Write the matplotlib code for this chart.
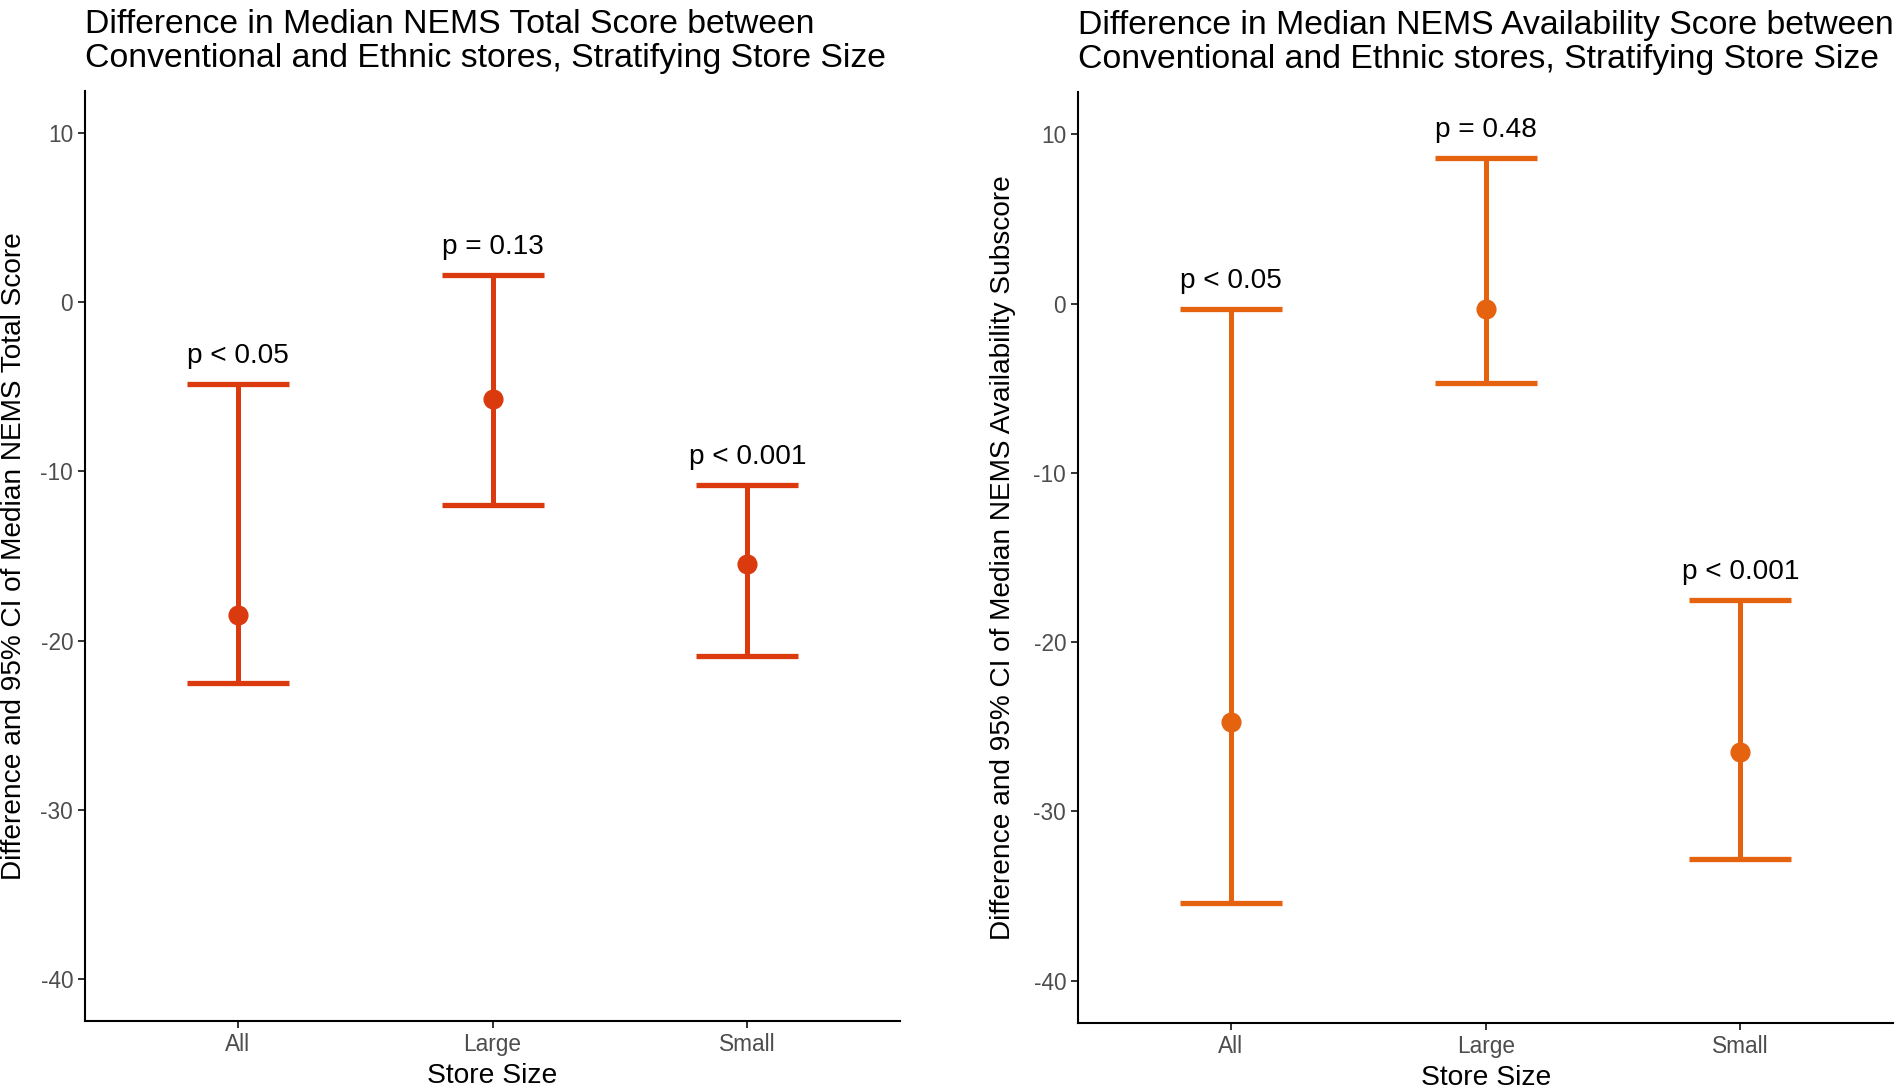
import matplotlib
matplotlib.use("Agg")
from matplotlib import pyplot as plt

plt.rcParams['font.family'] = ['Liberation Sans', 'DejaVu Sans']
plt.rcParams['axes.unicode_minus'] = False

categories = ["All", "Large", "Small"]

# left panel: NEMS total score
total_median = [-18.5, -5.7, -15.5]
total_lower = [-22.5, -12.0, -20.9]
total_upper = [-4.8, 1.65, -10.8]
total_p = ["p < 0.05", "p = 0.13", "p < 0.001"]

# right panel: NEMS availability subscore
avail_median = [-24.7, -0.3, -26.5]
avail_lower = [-35.4, -4.7, -32.8]
avail_upper = [-0.3, 8.6, -17.5]
avail_p = ["p < 0.05", "p = 0.48", "p < 0.001"]

y_ticks = [10, 0, -10, -20, -30, -40]


def draw_panel(ax, med, lo, hi, plabels, color, title, ylabel, ylab_x):
    x = list(range(1, len(categories) + 1))
    ax.vlines(x, lo, hi, color=color, linewidth=3.6, zorder=2)
    ax.hlines(lo, [i - 0.2 for i in x], [i + 0.2 for i in x],
              color=color, linewidth=3.8, zorder=2)
    ax.hlines(hi, [i - 0.2 for i in x], [i + 0.2 for i in x],
              color=color, linewidth=3.8, zorder=2)
    ax.plot(x, med, 'o', color=color, markersize=13.5, zorder=3)
    for xi, h, lab in zip(x, hi, plabels):
        ax.text(xi, h + 1.65, lab, ha='center', va='center', fontsize=20.2)

    ax.set_xlim(0.4, 3.6)
    ax.set_ylim(-42.5, 12.5)
    ax.set_xticks(x)
    ax.set_xticklabels(categories)
    ax.set_yticks(y_ticks)
    ax.tick_params(axis='both', labelsize=16.3, labelcolor='#4D4D4D',
                   color='#333333', length=5, width=1.4)
    for side in ['top', 'right']:
        ax.spines[side].set_visible(False)
    for side in ['left', 'bottom']:
        ax.spines[side].set_linewidth(1.5)
    ax.set_xlabel('Store Size', fontsize=20.3, labelpad=5)
    ax.set_ylabel(ylabel, fontsize=20.2)
    ax.yaxis.set_label_coords(ylab_x, 0.5)
    ax.set_title(title, loc='left', fontsize=24.3, pad=17.5, linespacing=1.12)


fig = plt.figure(figsize=(19.02, 10.89), dpi=100)
ax1 = fig.add_axes([0.0447, 0.0624, 0.4286, 0.854])
ax2 = fig.add_axes([0.5668, 0.0606, 0.4286, 0.855])

draw_panel(ax1, total_median, total_lower, total_upper, total_p, '#DA3A0E',
           'Difference in Median NEMS Total Score between\n'
           'Conventional and Ethnic stores, Stratifying Store Size',
           'Difference and 95% CI of Median NEMS Total Score', -0.071)
draw_panel(ax2, avail_median, avail_lower, avail_upper, avail_p, '#E5620F',
           'Difference in Median NEMS Availability Score between\n'
           'Conventional and Ethnic stores, Stratifying Store Size',
           'Difference and 95% CI of Median NEMS Availability Subscore', -0.076)

fig.savefig('out.png', dpi=100)
